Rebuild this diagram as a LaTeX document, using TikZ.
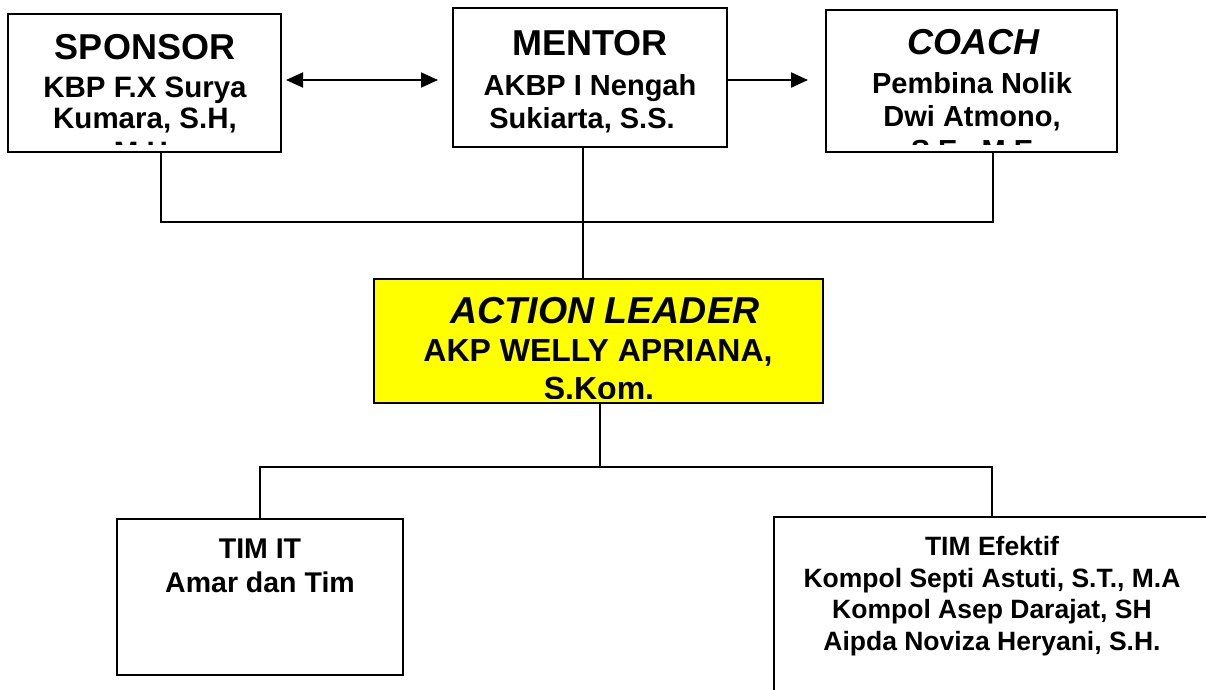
\documentclass[tikz,border=0pt]{standalone}
\usepackage{fontspec}
\setmainfont{Liberation Sans}
\usetikzlibrary{arrows.meta}

\definecolor{leaderyellow}{RGB}{255,255,0}

\tikzset{
  box/.style={draw=black, line width=2pt, rectangle, inner sep=0pt, outer sep=0pt},
  leaderbox/.style={box, fill=leaderyellow},
  conn/.style={line width=2pt, draw=black},
  tip/.tip={Triangle[length=17pt,width=15pt]},
  arr/.style={conn, -tip},
  biarr/.style={conn, tip-tip},
  ln/.style={anchor=base, inner sep=0pt, font=\bfseries\fontsize{#1}{#1}\selectfont},
  lni/.style={anchor=base, inner sep=0pt, font=\bfseries\itshape\fontsize{#1}{#1}\selectfont},
}

\begin{document}
\begin{tikzpicture}[x=1pt, y=-1pt]
\useasboundingbox (0,0) rectangle (1206,689);

% ---- top row boxes ----
\node[box, minimum width=273pt, minimum height=138pt] (sponsor) at (144.5,83) {};
\node[box, minimum width=274pt, minimum height=139pt] (mentor) at (590,77.5) {};
\node[box, minimum width=291pt, minimum height=142pt] (coach) at (971.5,81) {};

% ---- action leader ----
\node[leaderbox, minimum width=449pt, minimum height=124pt] (leader) at (598.5,341) {};

% ---- teams ----
\node[box, minimum width=286pt, minimum height=156pt] (timit) at (260,597) {};
\node[box, minimum width=436pt, minimum height=210pt] (timef) at (992,622) {};

% ---- texts, clipped to the inside of each box ----
\begin{scope}
  \clip (sponsor.north west) rectangle ([yshift=8pt]sponsor.south east);
  \node[ln=36] (sponsorA) at (145,59) {SPONSOR};
  \node[ln=29.5] (sponsorB) at (145,97) {KBP F.X Surya};
  \node[ln=29.5] (sponsorC) at (145,128) {Kumara, S.H,};
  \node[ln=29.5] (sponsorD) at (145,162) {M.H.};
\end{scope}

\begin{scope}
  \clip (mentor.north west) rectangle ([yshift=8pt]mentor.south east);
  \node[ln=36] (mentorA) at (590,55) {MENTOR};
  \node[ln=29] (mentorB) at (590,95) {AKBP I Nengah};
  \node[ln=29] (mentorC) at (582,128) {Sukiarta, S.S.};
\end{scope}

\begin{scope}
  \clip (coach.north west) rectangle ([yshift=8pt]coach.south east);
  \node[lni=36] (coachA) at (973,54) {COACH};
  \node[ln=29] (coachB) at (972,93) {Pembina Nolik};
  \node[ln=29] (coachC) at (972,126) {Dwi Atmono,};
  \node[ln=29] (coachD) at (972,160) {S.E., M.E};
\end{scope}

\begin{scope}
  \clip (leader.north west) rectangle ([yshift=5pt]leader.south east);
  \node[lni=37.5] (leaderA) at (605,323) {ACTION LEADER};
  \node[ln=32] (leaderB) at (598,361) {AKP WELLY APRIANA,};
  \node[ln=32] (leaderC) at (599,399) {S.Kom.};
\end{scope}

\node[ln=28.5] (timitA) at (260,558) {TIM IT};
\node[ln=28.5] (timitB) at (260,592) {Amar dan Tim};

\node[ln=26.5] (timefA) at (992,555) {TIM Efektif};
\node[ln=26.5] (timefB) at (992,587) {Kompol Septi Astuti, S.T., M.A};
\node[ln=26.5] (timefC) at (992,618) {Kompol Asep Darajat, SH};
\node[ln=26.5] (timefD) at (992,650) {Aipda Noviza Heryani, S.H.};

% ---- arrows between the top boxes ----
\coordinate (arrowrow) at (0,80);
\draw[biarr, shorten <=5pt, shorten >=15pt] (sponsor.east |- arrowrow) -- (mentor.west |- arrowrow);
\draw[arr, shorten >=18pt] (mentor.east |- arrowrow) -- (coach.west |- arrowrow);

% ---- upper bus ----
\coordinate (topbus) at (0,222);
\draw[conn] ([xshift=16.5pt]sponsor.south) |- ([xshift=21.5pt]coach.south |- topbus) -- ([xshift=21.5pt]coach.south);
\draw[conn] ([xshift=-7pt]mentor.south) -- ([xshift=-7pt]mentor.south |- leader.north);

% ---- lower bus ----
\coordinate (lowbus) at (0,467);
\draw[conn] ([xshift=1.5pt]leader.south) -- ([xshift=1.5pt]leader.south |- lowbus);
\draw[conn] (timit.north) |- (timef.north |- lowbus) -- (timef.north);
\end{tikzpicture}
\end{document}
